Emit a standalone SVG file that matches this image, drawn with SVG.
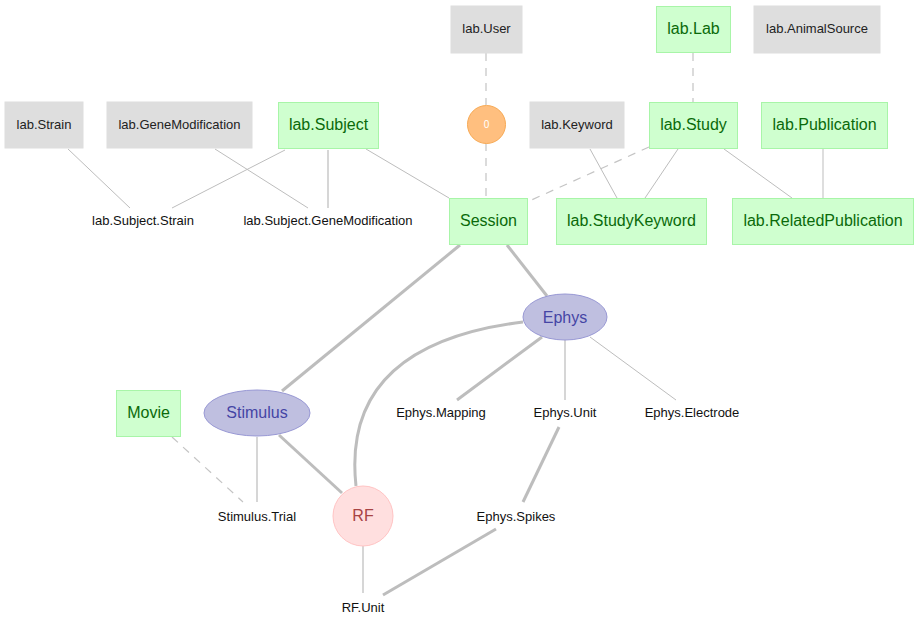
<svg xmlns="http://www.w3.org/2000/svg" width="917" height="627" viewBox="0 0 917 627">
<style>
text{font-family:"Liberation Sans",Arial,sans-serif;text-anchor:middle;dominant-baseline:central}
.lk rect{fill:#dedede;stroke:#dedede}
.lk text{font-size:13px;fill:#222}
.man rect{fill:#cfffcf;stroke:#a8f5a8;stroke-width:1}
.man text{font-size:16px;fill:#0a6a0a}
.comp ellipse{fill:#bfbfe0;stroke:#9898d4}
.comp text{font-size:16px;fill:#4545a5}
.part text{font-size:13px;fill:#111}
.thin{stroke:#bdbdbd;stroke-width:1;fill:none}
.mid{stroke:#c8c8c8;stroke-width:1.5;fill:none}
.thick{stroke:#bdbdbd;stroke-width:3;fill:none}
.dash{stroke:#c4c4c4;stroke-width:1.2;stroke-dasharray:8,7;fill:none}
</style>
<g id="connectors">
<line class="dash" x1="486" y1="53" x2="486" y2="105"/>
<line class="dash" x1="486" y1="143" x2="486" y2="198"/>
<line class="dash" x1="693" y1="53" x2="693" y2="102"/>
<line class="dash" x1="649" y1="147" x2="527" y2="202"/>
<line class="dash" x1="172" y1="437" x2="243" y2="502"/>
<line class="thin" x1="590" y1="149" x2="617" y2="198"/>
<line class="thin" x1="678" y1="149" x2="645" y2="198"/>
<line class="thin" x1="724" y1="149" x2="792" y2="198"/>
<line class="thin" x1="823" y1="149" x2="823" y2="198"/>
<line class="thin" x1="68" y1="149" x2="130" y2="208"/>
<line class="thin" x1="215" y1="149" x2="308" y2="208"/>
<line class="thin" x1="285" y1="150" x2="172" y2="208"/>
<line class="mid" x1="328" y1="150" x2="328" y2="208"/>
<line class="thin" x1="366" y1="149" x2="449" y2="198"/>
<line class="thick" x1="460" y1="245" x2="282" y2="391"/>
<line class="thick" x1="507" y1="245" x2="547" y2="296"/>
<path class="thick" d="M523,322 C410,336 345,385 356,486"/>
<line class="thick" x1="542" y1="337" x2="457" y2="400"/>
<line class="mid" x1="565" y1="340" x2="565" y2="400"/>
<line class="thin" x1="590" y1="337" x2="676" y2="400"/>
<line class="thick" x1="559" y1="427" x2="523" y2="502"/>
<line class="thick" x1="496" y1="529" x2="383" y2="595"/>
<line class="thick" x1="279" y1="435" x2="342" y2="493"/>
<line class="mid" x1="257" y1="437" x2="257" y2="502"/>
<line class="mid" x1="363" y1="546" x2="363" y2="593"/>
</g>
<g id="lab.User" class="lk"><rect x="451" y="6" width="71" height="47"/><text x="486.5" y="28.5">lab.User</text></g>
<g id="lab.Lab" class="man"><rect x="656.5" y="6.5" width="74" height="46"/><text x="693.5" y="28.5">lab.Lab</text></g>
<g id="lab.AnimalSource" class="lk"><rect x="754" y="6" width="126" height="47"/><text x="817" y="28.5">lab.AnimalSource</text></g>
<g id="lab.Strain" class="lk"><rect x="5" y="102" width="78" height="46"/><text x="44" y="124.5">lab.Strain</text></g>
<g id="lab.GeneModification" class="lk"><rect x="107" y="102" width="145" height="46"/><text x="179.5" y="124.5">lab.GeneModification</text></g>
<g id="lab.Subject" class="man"><rect x="278.5" y="102.5" width="100" height="46"/><text x="328.5" y="124.5">lab.Subject</text></g>
<g id="node0"><circle cx="486.5" cy="124.5" r="19" fill="#ffbf7f" stroke="#f7aa55"/><text x="486.5" y="124.5" style="font-size:10px;fill:#fff">0</text></g>
<g id="lab.Keyword" class="lk"><rect x="530" y="102" width="94" height="46"/><text x="577" y="124.5">lab.Keyword</text></g>
<g id="lab.Study" class="man"><rect x="649.5" y="102.5" width="88" height="46"/><text x="693.5" y="124.5">lab.Study</text></g>
<g id="lab.Publication" class="man"><rect x="761.5" y="102.5" width="126" height="46"/><text x="824.5" y="124.5">lab.Publication</text></g>
<g id="lab.Subject.Strain" class="part"><text x="143" y="220">lab.Subject.Strain</text></g>
<g id="lab.Subject.GeneModification" class="part"><text x="328" y="220">lab.Subject.GeneModification</text></g>
<g id="Session" class="man"><rect x="449.5" y="198.5" width="78" height="46"/><text x="488.5" y="220.5">Session</text></g>
<g id="lab.StudyKeyword" class="man"><rect x="556.5" y="198.5" width="150" height="46"/><text x="631.5" y="220.5">lab.StudyKeyword</text></g>
<g id="lab.RelatedPublication" class="man"><rect x="732.5" y="198.5" width="181" height="46"/><text x="823" y="220.5">lab.RelatedPublication</text></g>
<g id="Ephys" class="comp"><ellipse cx="565" cy="317" rx="42" ry="23"/><text x="565" y="317">Ephys</text></g>
<g id="Movie" class="man"><rect x="116.5" y="390.5" width="64" height="46"/><text x="148.5" y="412.5">Movie</text></g>
<g id="Stimulus" class="comp"><ellipse cx="257" cy="413" rx="53" ry="23"/><text x="257" y="412.5">Stimulus</text></g>
<g id="Ephys.Mapping" class="part"><text x="441" y="412">Ephys.Mapping</text></g>
<g id="Ephys.Unit" class="part"><text x="565" y="412">Ephys.Unit</text></g>
<g id="Ephys.Electrode" class="part"><text x="692" y="412">Ephys.Electrode</text></g>
<g id="RF"><circle cx="363" cy="516" r="30" fill="#ffdfdf" stroke="#ffc4c4"/><text x="363" y="515.5" style="font-size:16px;fill:#a84444">RF</text></g>
<g id="Stimulus.Trial" class="part"><text x="257" y="516">Stimulus.Trial</text></g>
<g id="Ephys.Spikes" class="part"><text x="516" y="516">Ephys.Spikes</text></g>
<g id="RF.Unit" class="part"><text x="363" y="607">RF.Unit</text></g>
</svg>
